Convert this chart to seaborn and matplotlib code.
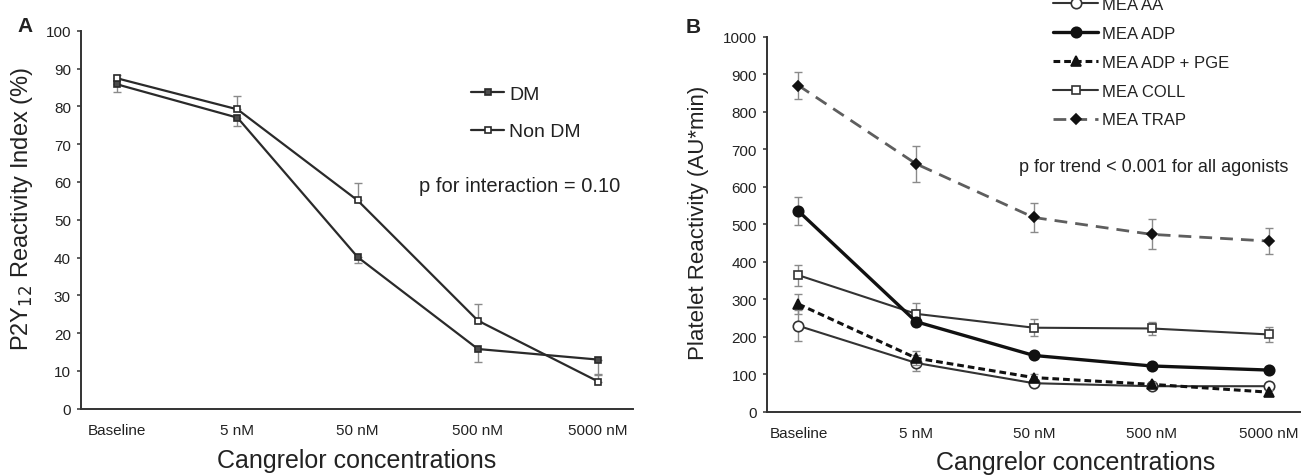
import numpy as np
import pandas as pd
import matplotlib
matplotlib.use("Agg")
import matplotlib.pyplot as plt
import seaborn as sns

# ---- data -------------------------------------------------------------
concentrations = ["Baseline", "5 nM", "50 nM", "500 nM", "5000 nM"]

# Panel A: P2Y12 reactivity index (%)
dm_values = [85.8, 77.0, 40.1, 15.8, 13.0]
dm_err_low = [2.1, 2.2, 1.6, 3.4, 4.2]
non_dm_values = [87.4, 79.2, 55.1, 23.3, 7.2]
non_dm_err_high = [0.9, 3.5, 4.7, 4.3, 2.0]

# Panel B: platelet reactivity by agonist (AU*min)
mea_aa = [229, 130, 76, 68, 68]
mea_aa_err = [41, 21, 8, 6, 6]
mea_adp = [535, 240, 150, 122, 111]
mea_adp_err = [37, 12, 8, 7, 7]
mea_adp_pge = [287, 143, 91, 73, 52]
mea_adp_pge_err = [27, 19, 10, 6, 5]
mea_coll = [364, 261, 224, 222, 206]
mea_coll_err = [28, 30, 22, 18, 20]
mea_trap = [870, 661, 518, 473, 455]
mea_trap_err = [37, 49, 38, 40, 35]

# ---- style ------------------------------------------------------------
sns.set_style("ticks")
plt.rcParams["font.family"] = ["Liberation Sans", "DejaVu Sans"]
TXT = "#222222"
AXC = "#333333"
ERRC = "#8a8a8a"

fig = plt.figure(figsize=(13.01, 4.77), dpi=100)
axA = fig.add_axes([0.062, 0.141, 0.4245, 0.7925])
axB = fig.add_axes([0.5893, 0.1348, 0.4107, 0.786])

xpos = np.arange(len(concentrations))


def style_axis(ax, ylim, yticks, xlim):
    ax.set_xlim(*xlim)
    ax.set_ylim(*ylim)
    ax.set_yticks(yticks)
    ax.set_xticks(xpos)
    ax.set_xticklabels(concentrations)
    for side in ("top", "right"):
        ax.spines[side].set_visible(False)
    for side in ("left", "bottom"):
        ax.spines[side].set_color(AXC)
        ax.spines[side].set_linewidth(1.4)
    ax.tick_params(axis="y", direction="out", length=3, width=1.1,
                   color=AXC, labelsize=11, labelcolor=TXT, pad=4)
    ax.tick_params(axis="x", length=0, labelsize=11, labelcolor=TXT, pad=10)


def draw_series(ax, y, err, label, line_color, lw, marker, ms, mfc, mec,
                linestyle="-", z=3):
    df = pd.DataFrame({"x": xpos, "y": y})
    ax.errorbar(xpos, y, yerr=err, fmt="none", ecolor=ERRC, elinewidth=1.0,
                capsize=2.6, capthick=1.0, zorder=z - 1)
    sns.lineplot(data=df, x="x", y="y", ax=ax, color=line_color, linewidth=lw,
                 linestyle=linestyle, marker=marker, markersize=ms,
                 markerfacecolor=mfc, markeredgecolor=mec, markeredgewidth=1.2,
                 label=label, zorder=z, errorbar=None)


# ---- panel A ----------------------------------------------------------
zeros = [0] * len(concentrations)
draw_series(axA, dm_values, [dm_err_low, zeros], "DM", "#2a2a2a", 1.6,
            "s", 4.5, "#4a4a4a", "#2a2a2a")
draw_series(axA, non_dm_values, [zeros, non_dm_err_high], "Non DM", "#2a2a2a",
            1.6, "s", 4.5, "white", "#2a2a2a")
style_axis(axA, (0, 100), np.arange(0, 101, 10), (-0.304, 4.289))
axA.set_xlabel("Cangrelor concentrations", fontsize=18, color=TXT)
axA.xaxis.set_label_coords(0.5, -0.136)
axA.xaxis.label.set_va("center")
axA.set_ylabel(r"P2Y$_{12}$ Reactivity Index (%)", fontsize=17, color=TXT)
axA.yaxis.set_label_coords(-0.107, 0.53)
axA.yaxis.label.set_va("center")
axA.legend(loc="upper left", bbox_to_anchor=(0.707, 0.856), frameon=False,
           fontsize=14, handlelength=1.7, handletextpad=0.25, labelspacing=1.03,
           borderaxespad=0, borderpad=0, labelcolor=TXT)
axA.text(3.35, 59, "p for interaction = 0.10", ha="center", va="center",
         fontsize=14.5, color=TXT)

# ---- panel B ----------------------------------------------------------
draw_series(axB, mea_aa, mea_aa_err, "MEA AA", "#333333", 1.5,
            "o", 7.5, "white", "#333333", z=3)
draw_series(axB, mea_adp, mea_adp_err, "MEA ADP", "#111111", 2.4,
            "o", 7.5, "#111111", "#111111", z=4)
draw_series(axB, mea_adp_pge, mea_adp_pge_err, "MEA ADP + PGE", "#111111", 2.2,
            "^", 7.5, "#111111", "#111111", linestyle=(0, (2.2, 1.3)), z=5)
draw_series(axB, mea_coll, mea_coll_err, "MEA COLL", "#333333", 1.5,
            "s", 6, "white", "#333333", z=3)
draw_series(axB, mea_trap, mea_trap_err, "MEA TRAP", "#5e5e5e", 2.0,
            "D", 5.5, "#111111", "#111111", linestyle=(0, (4.6, 2.9)), z=3)
style_axis(axB, (0, 1000), np.arange(0, 1001, 100), (-0.27, 4.27))
axB.set_xlabel("Cangrelor concentrations", fontsize=18, color=TXT)
axB.xaxis.set_label_coords(0.578, -0.133)
axB.xaxis.label.set_va("center")
axB.set_ylabel("Platelet Reactivity (AU*min)", fontsize=16, color=TXT)
axB.yaxis.set_label_coords(-0.127, 0.505)
axB.yaxis.label.set_va("center")
axB.legend(loc="upper left", bbox_to_anchor=(0.536, 1.106), frameon=False,
           fontsize=12, handlelength=2.7, handletextpad=0.25, labelspacing=0.83,
           borderaxespad=0, borderpad=0, labelcolor=TXT)
axB.text(3.02, 655, "p for trend < 0.001 for all agonists", ha="center",
         va="center", fontsize=13, color=TXT)

# panel letters
fig.text(0.019, 0.945, "A", fontsize=15, fontweight="bold", color=TXT,
         ha="center", va="center")
fig.text(0.533, 0.943, "B", fontsize=15, fontweight="bold", color=TXT,
         ha="center", va="center")

fig.savefig("out.png", dpi=100)
